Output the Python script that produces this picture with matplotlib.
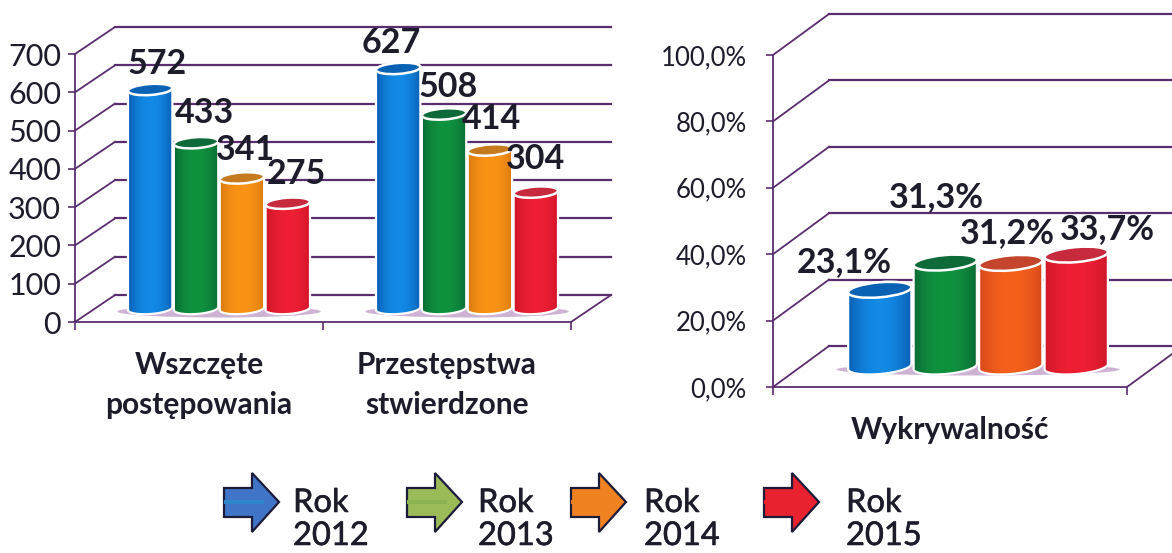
import numpy as np
import matplotlib
matplotlib.use("Agg")
import matplotlib.pyplot as plt
import matplotlib.patheffects as pe
from matplotlib.colors import to_rgb
from matplotlib.patches import Polygon, Ellipse
from matplotlib.transforms import IdentityTransform

plt.rcParams['font.family'] = ['Lato', 'DejaVu Sans']

# data
years = ['2012', '2013', '2014', '2015']
categories_left = ['Wszczęte\npostępowania', 'Przestępstwa\nstwierdzone']
wszczete = [572, 433, 341, 275]
przestepstwa = [627, 508, 414, 304]
yticks_left = [0, 100, 200, 300, 400, 500, 600, 700]

categories_right = ['Wykrywalność']
wykrywalnosc = [23.1, 31.3, 31.2, 33.7]
yticks_right = [0, 20, 40, 60, 80, 100]

W, H = 1172, 553
GRID = '#5a2d6e'
INK = '#1c1c2b'
# body edge, body centre, top of the cylinder
BLUE = ('#0b5fb4', '#128ae6', '#0a62b4')
GREEN = ('#0a6b33', '#10933f', '#0f6a3a')
ORANGE = ('#d97a10', '#fb9416', '#c67a1e')
DEEP_ORANGE = ('#d8481a', '#f5601c', '#c4452c')
RED = ('#d0162a', '#ee1f33', '#c62a3c')

fig = plt.figure(figsize=(W / 100, H / 100), dpi=100)


def make_axes(left, right, y_zero, y_top, xlim, ylim, yticks, ylabels, pad, size):
    ax = fig.add_axes([left / W, (H - y_zero) / H, (right - left) / W, (y_zero - y_top) / H])
    ax.set_xlim(*xlim)
    ax.set_ylim(*ylim)
    ax.autoscale(False)
    ax.patch.set_visible(False)
    for side in ['top', 'right']:
        ax.spines[side].set_visible(False)
    for side in ['left', 'bottom']:
        ax.spines[side].set_color(GRID)
        ax.spines[side].set_linewidth(1.3)
    ax.set_yticks(yticks)
    ax.set_yticklabels(ylabels, fontsize=size, color=INK, va='center_baseline')
    ax.set_xticks(range(int(xlim[1]) + 1))
    ax.set_xticklabels([])
    ax.tick_params(axis='y', length=5, width=1.2, color=GRID, pad=pad)
    ax.tick_params(axis='x', length=6, width=1.2, color=GRID)
    return ax


def draw_walls(ax, yticks, depth):
    """Back wall lines, side diagonals and the right floor edge."""
    x0, x1 = ax.get_xlim()
    px = IdentityTransform()
    for v in yticks:
        a = ax.transData.transform((x0, v))
        b = ax.transData.transform((x1, v))
        ax.plot([a[0], a[0] + depth[0]], [a[1], a[1] + depth[1]], color=GRID, lw=1.3,
                transform=px, clip_on=False, zorder=1)
        ax.plot([a[0] + depth[0], b[0] + depth[0]], [a[1] + depth[1], b[1] + depth[1]],
                color=GRID, lw=1.6, transform=px, clip_on=False, zorder=1)
    a = ax.transData.transform((x1, yticks[0]))
    ax.plot([a[0], a[0] + depth[0]], [a[1], a[1] + depth[1]], color=GRID, lw=1.3,
            transform=px, clip_on=False, zorder=1)


def ellipse_pts(cx, cy, a, b, tilt, t):
    c, s = np.cos(np.radians(tilt)), np.sin(np.radians(tilt))
    ex, ey = a * np.cos(t), b * np.sin(t)
    return np.column_stack([cx + ex * c - ey * s, cy + ex * s + ey * c])


def cylinder(ax, x, value, bar_w, colors, depth, ell_h, tilt, z):
    base = ax.transData.transform((x, 0)) + np.array(depth) / 2
    top = ax.transData.transform((x, value)) + np.array(depth) / 2
    half = (ax.transData.transform((bar_w, 0))[0] - ax.transData.transform((0, 0))[0]) / 2
    low = ellipse_pts(base[0], base[1], half, ell_h / 2, tilt, np.linspace(np.pi, 2 * np.pi, 40))
    up = ellipse_pts(top[0], top[1], half, ell_h / 2, tilt, np.linspace(0, np.pi, 40))
    outline = Polygon(np.vstack([low, up]), closed=True, transform=IdentityTransform(),
                      facecolor='none', edgecolor='white', lw=1.6, zorder=z + 0.2, clip_on=False)
    edge, mid = np.array(to_rgb(colors[0])), np.array(to_rgb(colors[1]))
    u = np.abs(np.linspace(-1, 1, 48))[None, :, None] ** 2
    grad = mid * (1 - u) + edge * u
    ax.add_patch(outline)
    im = ax.imshow(grad, extent=(base[0] - half, base[0] + half, base[1] - 20, top[1] + 20),
                   transform=IdentityTransform(), aspect='auto', interpolation='bilinear', zorder=z)
    im.set_clip_path(outline)
    cap = Ellipse((top[0], top[1]), 2 * half, ell_h, angle=tilt, transform=IdentityTransform(),
                  facecolor=colors[2], edgecolor='white', lw=1.8, zorder=z + 0.3, clip_on=False)
    ax.add_patch(cap)
    return top


def floor_shadow(ax, x, span, depth, height):
    base = ax.transData.transform((x, 0)) + np.array(depth) / 2
    width = ax.transData.transform((span, 0))[0] - ax.transData.transform((0, 0))[0]
    ax.add_patch(Ellipse((base[0], base[1] - 3), width, height, transform=IdentityTransform(),
                         facecolor='#cdb2d4', edgecolor='none', zorder=2, clip_on=False))


def value_labels(ax, xs, values, texts, shifts, depth, size):
    for x, v, s, (dx, dy) in zip(xs, values, texts, shifts):
        p = ax.transData.transform((x, v)) + np.array(depth) / 2
        ax.text(p[0] + dx, p[1] + dy, s, transform=IdentityTransform(), fontsize=size,
                fontweight='bold', color=INK, ha='center', va='center', zorder=20, clip_on=False)


SLOT = 0.185
offsets = [(i - 1.5) * SLOT for i in range(4)]

# left chart
depth_l = (40, 27)
ax1 = make_axes(75, 571, 322, 54, (0, 2), (0, 700), yticks_left, [str(v) for v in yticks_left], 5, 22)
draw_walls(ax1, yticks_left, depth_l)
colors_l = [BLUE, GREEN, ORANGE, RED]
shifts_l = [[(7, 26), (8, 30), (4, 28), (9, 29)], [(-7, 25), (4, 27), (2, 31), (0, 33)]]
for c, vals in enumerate([wszczete, przestepstwa]):
    xs = [c + 0.5 + o for o in offsets]
    floor_shadow(ax1, c + 0.5, 0.82, depth_l, 12)
    for i in range(4):
        cylinder(ax1, xs[i], vals[i], SLOT * 0.97, colors_l[i], depth_l, 11, 4, 3 + i)
    value_labels(ax1, xs, vals, [str(v) for v in vals], shifts_l[c], depth_l, 24.5)
    ax1.annotate(categories_left[c], xy=(c + 0.5, 0), xytext=(0, -63), textcoords='offset pixels',
                 ha='center', va='center', fontsize=21.5, fontweight='bold', color=INK,
                 linespacing=1.5, annotation_clip=False)

# right chart
depth_r = (56, 41)
ylabels_r = [f'{v},0%' for v in yticks_right]
ax2 = make_axes(773, 1127, 387, 55, (0, 1), (0, 100), yticks_right, ylabels_r, 14, 18.5)
draw_walls(ax2, yticks_right, depth_r)
colors_r = [BLUE, GREEN, DEEP_ORANGE, RED]
shifts_r = [(-36, 28), (-9, 66), (-3, 30), (31, 26)]
xs = [0.5 + o for o in offsets]
floor_shadow(ax2, 0.5, 0.8, depth_r, 12)
for i in range(4):
    cylinder(ax2, xs[i], wykrywalnosc[i], SLOT * 0.97, colors_r[i], depth_r, 15, 5, 3 + i)
value_labels(ax2, xs, wykrywalnosc, [f'{v:.1f}%'.replace('.', ',') for v in wykrywalnosc],
             shifts_r, depth_r, 24.5)
ax2.annotate(categories_right[0], xy=(0.5, 0), xytext=(0, -43), textcoords='offset pixels',
             ha='center', va='center', fontsize=21.5, fontweight='bold', color=INK, annotation_clip=False)

# legend: arrows instead of the usual handles
legend_x = [224, 407, 571, 764]
legend_text_x = [293, 478, 644, 846]
legend_colors = ['#3f74c6', '#9bbb59', '#f08222', '#e8222e']
legend_stripes = ['#2f86cc', '#8bb352', '#f08222', '#e8222e']
heavier = [pe.withStroke(linewidth=0.4, foreground=INK)]
for x, tx, col, stripe, year in zip(legend_x, legend_text_x, legend_colors, legend_stripes, years):
    pts = np.array([[x, 488], [x + 28, 488], [x + 28, 473], [x + 55, 502],
                    [x + 28, 532], [x + 28, 517], [x, 517]], dtype=float)
    pts[:, 1] = H - pts[:, 1]
    fig.add_artist(Polygon(pts, closed=True, transform=IdentityTransform(), facecolor=col,
                           edgecolor='#1c1c3a', lw=1.6))
    fig.add_artist(plt.Line2D([x + 2, x + 38], [H - 502, H - 502], color=stripe, lw=3,
                              transform=IdentityTransform()))
    fig.text(tx / W, (H - 503) / H, 'Rok', fontsize=23.5, color=INK, ha='left', va='center', path_effects=heavier)
    fig.text(tx / W, (H - 536) / H, year, fontsize=23.5, color=INK, ha='left', va='center', path_effects=heavier)

fig.savefig('out.png', dpi=100, facecolor='white')
